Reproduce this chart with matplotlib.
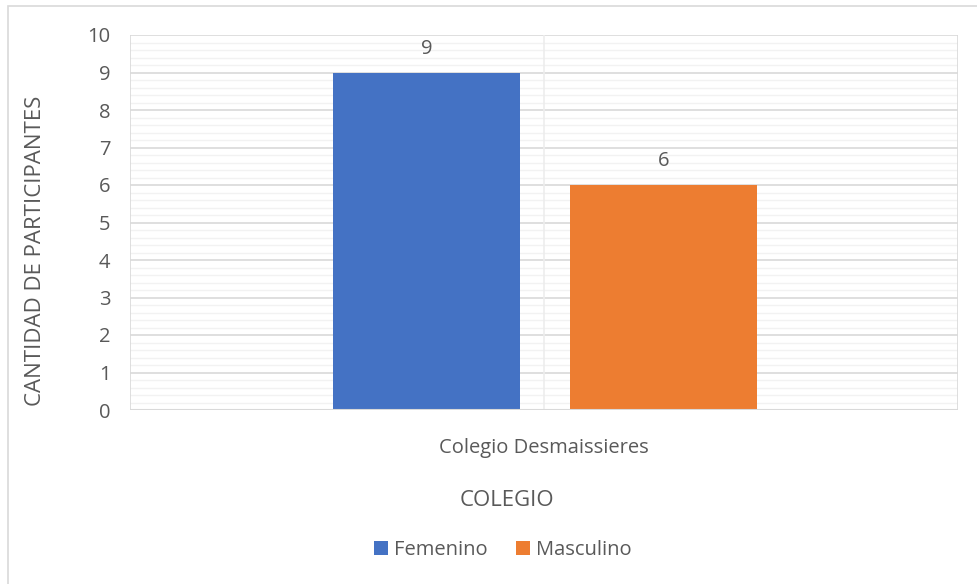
import matplotlib.pyplot as plt
from matplotlib.patches import Rectangle

categories = ['Colegio Desmaissieres']
series_names = ['Femenino', 'Masculino']
femenino = [9]
masculino = [6]
y_ticks = list(range(0, 11))

colors = ['#4472C4', '#ED7D31']
text_color = '#595959'
plt.rcParams['font.family'] = ['Open Sans', 'DejaVu Sans']

W, H = 977, 584
fig = plt.figure(figsize=(W / 100, H / 100), dpi=100)
ax = fig.add_axes([130 / W, 1 - 410 / H, (958 - 130) / W, (410 - 35) / H])

# figure border (only top/left visible in the reference)
fig.patches.append(Rectangle((8 / W, -0.01), 1.0, 1 - 6 / H + 0.01, transform=fig.transFigure,
                             fill=False, edgecolor='#D9D9D9', linewidth=1.2))

bar_w = 0.226
offsets = [-0.142, 0.144]
for vals, off, col, name in zip([femenino, masculino], offsets, colors, series_names):
    for i, v in enumerate(vals):
        ax.bar(i + off, v, width=bar_w, color=col, label=name if i == 0 else None, zorder=3)
        ax.text(i + off, v + 0.36, str(v), ha='center', va='bottom', fontsize=14.5, color=text_color)

ax.set_xlim(-0.5, 0.5)
ax.set_ylim(0, 10)

# gridlines: minor every 0.2, major every 1
for y in [k / 5 for k in range(51)]:
    if y in y_ticks:
        ax.axhline(y, color='#D9D9D9', linewidth=1.2, zorder=1)
    else:
        ax.axhline(y, color='#F2F2F2', linewidth=1.0, zorder=1)
for x in [-0.5, 0.0, 0.5]:
    ax.axvline(x, color='#D9D9D9' if x != 0 else '#EDEDED', linewidth=1.2, zorder=1)

for s in ax.spines.values():
    s.set_visible(False)
ax.axhline(0, color='#D9D9D9', linewidth=1.5, zorder=4)

ax.set_yticks(y_ticks)
ax.set_yticklabels([str(t) for t in y_ticks], fontsize=14.5, color=text_color)
ax.set_xticks(range(len(categories)))
ax.set_xticklabels(categories, fontsize=14.5, color=text_color)
ax.tick_params(axis='both', length=0)
ax.tick_params(axis='x', pad=20)
ax.tick_params(axis='y', pad=14)

# axis titles placed like the reference (not centred on the plot area)
fig.text(36 / W, 1 - 251 / H, 'CANTIDAD DE PARTICIPANTES', rotation=90, ha='center', va='center',
         fontsize=16, color=text_color)
fig.text(507 / W, 1 - 500 / H, 'COLEGIO', ha='center', va='center', fontsize=16, color=text_color)

leg = fig.legend(loc='center', bbox_to_anchor=(503 / W, 1 - 550 / H), ncol=2, frameon=False,
                 fontsize=14.5, handlelength=0.7, handleheight=0.7, handletextpad=0.3, columnspacing=1.4)
for t in leg.get_texts():
    t.set_color(text_color)

fig.savefig('out.png', dpi=100)
